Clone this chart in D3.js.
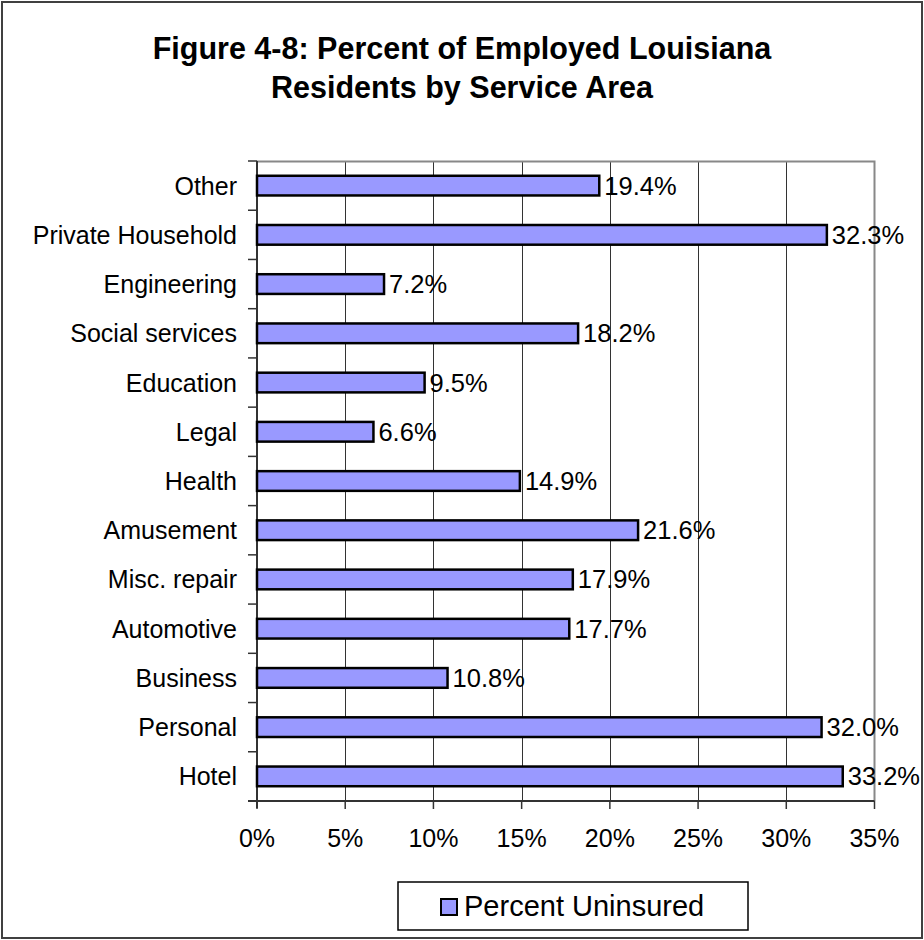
<!DOCTYPE html>
<html>
<head>
<meta charset="utf-8">
<script src="https://cdn.jsdelivr.net/npm/d3@7"></script>
<style>
  html, body { margin: 0; padding: 0; background: #fff; }
  svg { display: block; }
  text { font-family: "Liberation Sans", Arial, sans-serif; fill: #000; }
</style>
</head>
<body>
<svg id="chart" width="924" height="940"></svg>
<script>
const categories = ["Other", "Private Household", "Engineering", "Social services", "Education", "Legal", "Health", "Amusement", "Misc. repair", "Automotive", "Business", "Personal", "Hotel"];
const values = [19.4, 32.3, 7.2, 18.2, 9.5, 6.6, 14.9, 21.6, 17.9, 17.7, 10.8, 32.0, 33.2];
const xTicks = [0, 5, 10, 15, 20, 25, 30, 35];
const titleLines = ["Figure 4-8: Percent of Employed Louisiana", "Residents by Service Area"];
const seriesName = "Percent Uninsured";

const svg = d3.select("#chart");
const W = 924, H = 940;

// outer border
svg.append("rect").attr("x", 2).attr("y", 2).attr("width", W - 4).attr("height", H - 4)
  .attr("fill", "#fff").attr("stroke", "#404040").attr("stroke-width", 2);

// title
svg.append("g").selectAll("text").data(titleLines).join("text")
  .attr("x", 462).attr("y", (d, i) => 59 + i * 39)
  .attr("text-anchor", "middle").attr("font-size", 30.5).attr("font-weight", "bold")
  .text(d => d);

const L = 257, R = 874.5, T = 161, B = 801;
const x = d3.scaleLinear().domain([0, 35]).range([L, R]);
const y = d3.scaleBand().domain(categories).range([T, B]).paddingInner(0.6).paddingOuter(0.3);
const yb = d3.scaleBand().domain(categories).range([T, B]);

// gridlines
svg.append("g").selectAll("line").data(xTicks.filter(t => t > 0 && t < 35)).join("line")
  .attr("x1", d => Math.round(x(d)) + 0.5).attr("x2", d => Math.round(x(d)) + 0.5)
  .attr("y1", T).attr("y2", B).attr("stroke", "#333").attr("stroke-width", 1);

// plot border top & right (gray)
svg.append("path").attr("d", `M${L},${T + 0.5}H${R}V${B}`)
  .attr("fill", "none").attr("stroke", "#888").attr("stroke-width", 2);

// y axis
svg.append("line").attr("x1", L).attr("x2", L).attr("y1", T).attr("y2", B + 7)
  .attr("stroke", "#333").attr("stroke-width", 2);
const bounds = categories.map(c => yb(c)).concat([B]);
svg.append("g").selectAll("line").data(bounds).join("line")
  .attr("x1", L - 9).attr("x2", L).attr("y1", d => d).attr("y2", d => d)
  .attr("stroke", "#333").attr("stroke-width", 1.5);
svg.append("g").selectAll("text").data(categories).join("text")
  .attr("x", 237).attr("y", d => yb(d) + yb.bandwidth() / 2 + 9)
  .attr("text-anchor", "end").attr("font-size", 25).text(d => d);

// x axis
svg.append("line").attr("x1", L - 9).attr("x2", R).attr("y1", B).attr("y2", B)
  .attr("stroke", "#333").attr("stroke-width", 2);
svg.append("g").selectAll("line").data(xTicks).join("line")
  .attr("x1", d => x(d)).attr("x2", d => x(d)).attr("y1", B).attr("y2", B + 8)
  .attr("stroke", "#333").attr("stroke-width", 1.5);
svg.append("g").selectAll("text").data(xTicks).join("text")
  .attr("x", d => x(d)).attr("y", 847)
  .attr("text-anchor", "middle").attr("font-size", 25).text(d => d + "%");

// bars
svg.append("g").selectAll("rect").data(values).join("rect")
  .attr("x", x(0)).attr("y", (d, i) => y(categories[i]))
  .attr("width", d => x(d) - x(0)).attr("height", y.bandwidth())
  .attr("fill", "#9999FF").attr("stroke", "#000").attr("stroke-width", 2.5);

// data labels
svg.append("g").selectAll("text").data(values).join("text")
  .attr("x", d => x(d) + 5).attr("y", (d, i) => yb(categories[i]) + yb.bandwidth() / 2 + 9)
  .attr("font-size", 25.5).text(d => d.toFixed(1) + "%");

// legend
const lg = svg.append("g");
lg.append("rect").attr("x", 398).attr("y", 882).attr("width", 350).attr("height", 48)
  .attr("fill", "#fff").attr("stroke", "#000").attr("stroke-width", 1.5);
lg.append("rect").attr("x", 441).attr("y", 899).attr("width", 16).attr("height", 16)
  .attr("fill", "#9999FF").attr("stroke", "#000").attr("stroke-width", 2);
lg.append("text").attr("x", 464).attr("y", 916).attr("font-size", 29).text(seriesName);
</script>
</body>
</html>
